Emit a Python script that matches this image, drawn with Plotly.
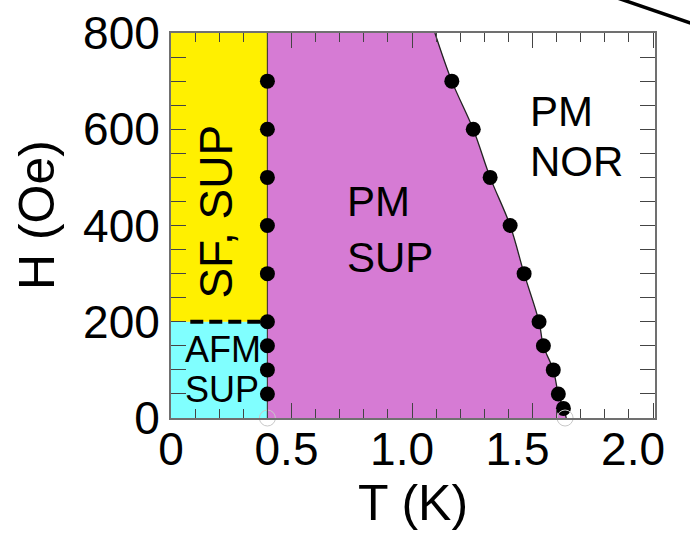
import plotly.graph_objects as go

# ---- data ----
T_low_line = [0.40, 0.40]            # vertical phase line T (K)
H_low_line = [0, 800]
H_sf = 200                           # spin-flop field (Oe)
T_dash = [0.08, 0.38]                # dashed AFM/SF boundary

T_left = [0.40, 0.40, 0.40, 0.40, 0.40, 0.40, 0.40, 0.40, 0.40]
H_left = [700, 600, 500, 400, 300, 200, 150, 100, 50]

T_right = [1.165, 1.254, 1.324, 1.407, 1.465, 1.527, 1.545, 1.586, 1.607, 1.628]
H_right = [700, 600, 500, 400, 300, 200, 150, 100, 50, 20]

T_open = [0.40, 1.635]
H_open = [0, 0]

T_bound_top, H_bound_top = 1.095, 800   # where the Hc2 line leaves the frame
T_bound_end, H_bound_end = 1.64, 0

T_max, H_max = 2.0, 800
x_ticks = [0, 0.5, 1.0, 1.5, 2.0]
x_ticktext = ["0", "0.5", "1.0", "1.5", "2.0"]
y_ticks = [0, 100, 200, 300, 400, 500, 600, 700, 800]
y_ticktext = ["0", "", "200", "", "400", "", "600", "", "800"]

YELLOW = "#FFF000"
CYAN = "#80FFFF"
MAGENTA = "#D67BD4"
FONT = "Liberation Sans, Arial, sans-serif"

fig = go.Figure()

# cyan region AFM SUP
fig.add_trace(go.Scatter(
    x=[0, T_low_line[0], T_low_line[0], 0, 0],
    y=[0, 0, H_sf, H_sf, 0],
    fill="toself", fillcolor=CYAN, mode="lines", line=dict(width=0),
    hoverinfo="skip", showlegend=False))
# yellow region SF, SUP
fig.add_trace(go.Scatter(
    x=[0, T_low_line[0], T_low_line[0], 0, 0],
    y=[H_sf, H_sf, H_max, H_max, H_sf],
    fill="toself", fillcolor=YELLOW, mode="lines", line=dict(width=0),
    hoverinfo="skip", showlegend=False))
# magenta region PM SUP
bx = [T_bound_top] + T_right + [T_bound_end]
by = [H_bound_top] + H_right + [H_bound_end]
fig.add_trace(go.Scatter(
    x=[T_low_line[0], T_low_line[0]] + bx + [T_low_line[0]],
    y=[0, H_max] + by + [0],
    fill="toself", fillcolor=MAGENTA, mode="lines", line=dict(width=0),
    hoverinfo="skip", showlegend=False))

# boundary lines
fig.add_trace(go.Scatter(x=T_low_line, y=H_low_line, mode="lines",
                         line=dict(color="#4a3a3a", width=1.2),
                         hoverinfo="skip", showlegend=False))
fig.add_trace(go.Scatter(x=bx, y=by, mode="lines",
                         line=dict(color="#222222", width=1.3, shape="spline"),
                         hoverinfo="skip", showlegend=False))
# dashed AFM / SF line
fig.add_trace(go.Scatter(x=T_dash, y=[H_sf, H_sf], mode="lines",
                         line=dict(color="black", width=4, dash="13px,6px"),
                         hoverinfo="skip", showlegend=False))

# data points
fig.add_trace(go.Scatter(x=T_left, y=H_left, mode="markers",
                         marker=dict(color="black", size=15),
                         showlegend=False))
fig.add_trace(go.Scatter(x=T_right, y=H_right, mode="markers",
                         marker=dict(color="black", size=15),
                         showlegend=False))
fig.add_trace(go.Scatter(x=T_open, y=H_open, mode="markers",
                         marker=dict(symbol="circle-open", color="#c8c8c8", size=16,
                                     line=dict(width=1)),
                         cliponaxis=False, showlegend=False))

# invisible trace to carry the label axis
fig.add_trace(go.Scatter(x=[0], y=[0], xaxis="x2", mode="markers",
                         marker=dict(opacity=0), hoverinfo="skip", showlegend=False))

def label(text, x, y, size, angle=0, xanchor="left"):
    fig.add_annotation(x=x, y=y, text=text, showarrow=False, textangle=angle,
                       xanchor=xanchor, yanchor="middle",
                       font=dict(family=FONT, size=size, color="black"))

label("PM", 0.722, 449, 42)
label("SUP", 0.722, 333, 42)
label("PM", 1.48, 636, 42)
label("NOR", 1.48, 534, 42)
label("AFM", 0.05, 143, 36)
label("SUP", 0.05, 60, 36)
label("SF, SUP", 0.185, 428, 46, angle=-90, xanchor="center")

# y-axis title as paper annotation for exact placement
fig.add_annotation(xref="paper", yref="paper", x=-0.277, y=0.527, text="H (Oe)",
                   showarrow=False, textangle=-90, xanchor="center", yanchor="middle",
                   font=dict(family=FONT, size=50, color="black"))

tickfont = dict(family=FONT, size=46, color="black")
fig.update_layout(
    width=690, height=535,
    margin=dict(l=171, r=35, t=33, b=117),
    paper_bgcolor="white", plot_bgcolor="white",
    font=dict(family=FONT, color="black"),
    xaxis=dict(range=[0, 2.008], showgrid=False, zeroline=False, automargin=False,
               showline=True, linecolor="#707070", linewidth=2, mirror="allticks",
               ticks="inside", tickvals=x_ticks + [0.4], ticktext=["", "", "", "", "", ""],
               ticklen=15, tickcolor="#444", tickwidth=1.3,
               minor=dict(dtick=0.1, ticks="inside", ticklen=9, tickcolor="#444", tickwidth=1.3)),
    xaxis2=dict(range=[0, 2.095], overlaying="x", side="bottom", showgrid=False,
                zeroline=False, showline=False, ticks="", tickvals=x_ticks,
                ticktext=x_ticktext, tickfont=tickfont, automargin=False,
                title=dict(text="T (K)", font=dict(family=FONT, size=50), standoff=4)),
    yaxis=dict(range=[0, H_max], showgrid=False, zeroline=False, automargin=False,
               showline=True, linecolor="#707070", linewidth=2, mirror="allticks",
               ticks="inside", tickvals=y_ticks, ticktext=y_ticktext,
               ticklen=15, tickcolor="#444", tickwidth=1.3,
               minor=dict(dtick=50, ticks="inside", ticklen=9, tickcolor="#444", tickwidth=1.3),
               tickfont=tickfont, ticklabelstandoff=0),
)

# stray arrow line at the top-right corner of the crop
fig.add_shape(type="line", xref="paper", yref="paper",
              x0=0.913, y0=1.095, x1=1.075, y1=1.025,
              line=dict(color="black", width=3.5))

fig.write_html("out.html")
